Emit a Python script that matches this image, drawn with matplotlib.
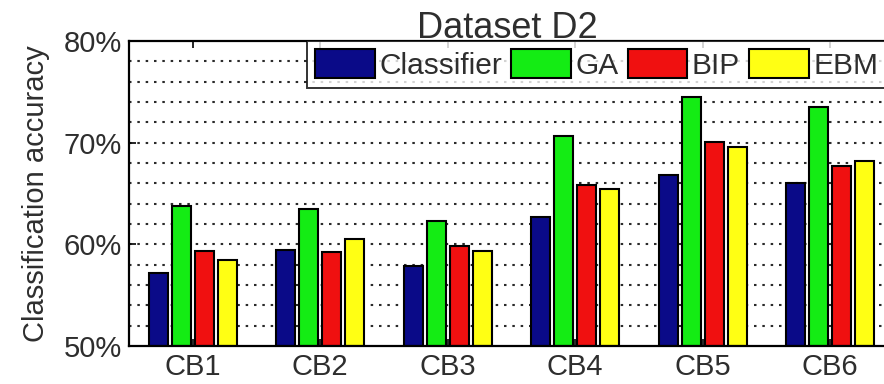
import numpy as np
import matplotlib
matplotlib.use("Agg")
import matplotlib.pyplot as plt
from matplotlib.ticker import FixedLocator

plt.rcParams['font.family'] = ['Liberation Sans', 'DejaVu Sans']

# accuracy (%) per classifier bundle
groups = ['CB1', 'CB2', 'CB3', 'CB4', 'CB5', 'CB6']
classifier = [57.2, 59.4, 57.9, 62.7, 66.8, 66.0]
ga = [63.8, 63.5, 62.3, 70.7, 74.5, 73.5]
bip = [59.3, 59.2, 59.8, 65.8, 70.1, 67.7]
ebm = [58.5, 60.5, 59.3, 65.4, 69.6, 68.2]

series = [('Classifier', classifier, '#0a0a88'),
          ('GA', ga, '#14ec14'),
          ('BIP', bip, '#f01010'),
          ('EBM', ebm, '#ffff14')]

txt = '#2e2e2e'
fig = plt.figure(figsize=(8.84, 3.84), dpi=100)
# axes runs a little past the right edge of the canvas
ax = fig.add_axes([129/884, 38/384, 765/884, 305/384])

x = np.arange(1, len(groups) + 1)
step = 0.18
width = 0.15
for k, (name, vals, col) in enumerate(series):
    ax.bar(x + (k - 1.5) * step, np.array(vals) - 50, bottom=50, width=width,
           color=col, edgecolor='black', linewidth=1.5, label=name, zorder=3)

ax.set_xlim(0.5, 6.5)
ax.set_ylim(50, 80)
ax.set_xticks(x)
ax.set_xticklabels(groups)
ax.yaxis.set_major_locator(FixedLocator([50, 60, 70, 80]))
ax.set_yticklabels(['50%', '60%', '70%', '80%'])

# dotted grid every 2 %
for yv in np.arange(52, 80, 2):
    ax.axhline(yv, color='#2a2a2a', linestyle=(0, (1.2, 2.8)), linewidth=1.5, zorder=1)

ax.tick_params(axis='both', direction='in', length=5, width=1.2, colors='black',
               labelcolor=txt, labelsize=21, top=True, right=False)
ax.tick_params(axis='x', pad=5)
ax.tick_params(axis='y', pad=5)
for s in ax.spines.values():
    s.set_linewidth(1.6)
    s.set_zorder(4)

ax.set_ylabel('Classification accuracy', fontsize=21, color=txt, labelpad=10)
ax.set_title('Dataset D2', fontsize=26, color=txt, pad=2, x=(507 - 129) / 765)

leg = ax.legend(ncol=4, loc='upper left', bbox_to_anchor=((307 - 129) / 765, 1.0),
                borderaxespad=0, fontsize=21.5, frameon=True, fancybox=False,
                handlelength=2.0, handleheight=1.1, handletextpad=0.15,
                columnspacing=0.3, borderpad=0.28)
leg.get_frame().set_edgecolor('black')
leg.get_frame().set_linewidth(1.4)
for t in leg.get_texts():
    t.set_color(txt)
leg.set_zorder(5)

fig.savefig('out.png', dpi=100)
